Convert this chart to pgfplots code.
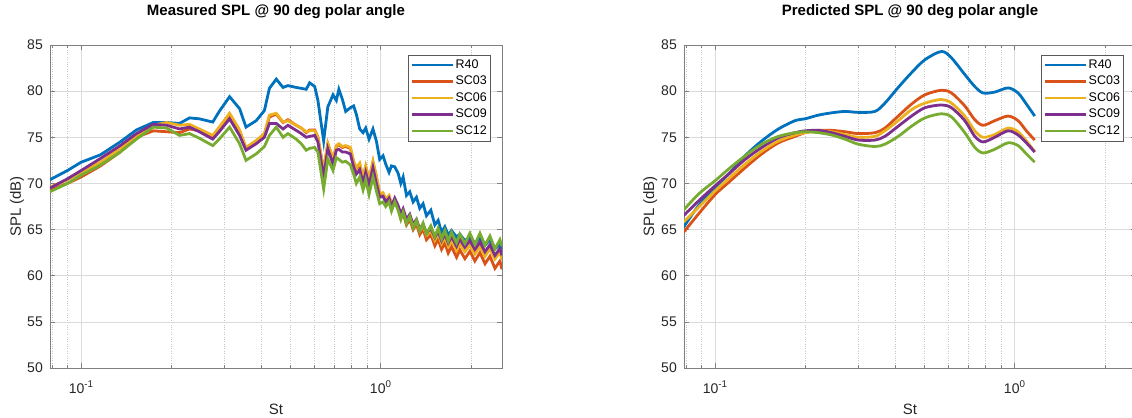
\documentclass[border=0pt]{standalone}
\usepackage{pgfplots}
\pgfplotsset{compat=1.18}
\usepackage{pgfplotstable}
\usepackage{fontspec}
\setmainfont{Liberation Sans}

\definecolor{cR}{RGB}{0,114,189}
\definecolor{cA}{RGB}{217,83,25}
\definecolor{cB}{RGB}{237,177,32}
\definecolor{cC}{RGB}{126,47,142}
\definecolor{cD}{RGB}{119,172,48}
\definecolor{axgray}{RGB}{128,128,128}
\definecolor{txt}{RGB}{38,38,38}

\pgfplotstableread{
St R40 SC03 SC06 SC09 SC12
0.0787 70.4 69.3 69.6 69.5 69.1
0.09 71.4 70.0 70.4 70.5 70.0
0.1 72.3 70.7 71.2 71.4 70.9
0.116 73.1 71.9 72.3 72.7 72.0
0.135 74.5 73.4 73.8 74.1 73.4
0.153 75.8 75.0 75.2 75.4 74.8
0.174 76.6 75.7 76.3 76.4 76.1
0.193 76.6 75.6 76.6 76.3 76.0
0.213 76.5 75.5 76.3 75.9 75.2
0.23 77.1 75.9 76.4 76.1 75.4
0.248 77.0 75.7 75.9 75.6 74.9
0.275 76.65 75.1 75.2 74.8 74.1
0.289 77.8 76.0 76.1 75.6 74.8
0.313 79.4 77.4 77.6 77.0 76.1
0.338 78.1 75.6 75.8 75.2 74.3
0.355 76.1 73.8 73.9 73.6 72.5
0.384 76.8 74.5 74.65 74.3 73.2
0.409 77.9 75.3 75.4 75.0 74.0
0.425 80.3 77.2 77.4 76.5 75.2
0.448 81.3 77.5 77.6 76.5 76.1
0.472 80.4 76.6 76.65 75.9 75.0
0.49 80.6 76.9 76.8 76.3 75.4
0.522 80.4 76.3 76.3 75.75 74.8
0.543 80.3 76.0 76.0 75.4 74.3
0.564 80.2 75.5 75.6 75.0 73.6
0.579 80.9 75.8 75.7 75.1 73.8
0.602 80.5 75.8 75.7 75.2 73.9
0.617 79.0 75.0 75.0 74.5 73.4
0.645 74.6 71.4 71.4 70.7 69.4
0.666 78.3 74.3 74.3 73.75 72.65
0.693 79.6 72.6 72.7 72.1 71.4
0.711 79.0 74.0 74.1 73.6 72.8
0.725 80.2 74.2 74.3 73.7 72.6
0.745 79.1 73.9 74.0 73.4 72.3
0.764 77.8 74.0 74.1 73.4 72.4
0.792 78.2 73.8 73.9 73.2 72.0
0.812 78.4 72.3 72.4 71.8 71.0
0.829 77.5 71.6 71.7 71.0 70.0
0.851 75.9 72.0 72.2 71.5 70.7
0.873 75.5 70.6 70.7 70.0 69.3
0.891 76.0 71.8 71.9 71.2 70.4
0.914 74.8 70.4 70.5 69.8 68.8
0.942 75.9 72.3 72.4 71.7 70.7
0.967 74.6 70.7 70.8 70.0 69.2
0.992 72.6 68.8 68.9 68.5 67.8
1.018 73.0 68.9 69.0 68.6 68.0
1.039 72.1 68.2 68.3 68.0 67.5
1.066 71.2 68.6 68.7 68.4 68.0
1.086 71.9 67.7 67.8 67.5 67.0
1.114 71.8 68.1 68.3 68.4 68.0
1.143 71.1 67.3 67.5 67.6 67.1
1.167 70.0 66.2 66.5 66.7 66.1
1.188 70.7 66.8 67.05 67.25 66.9
1.219 68.7 65.5 65.9 66.1 65.65
1.250 69.1 66.1 66.45 66.65 66.45
1.283 68.0 65.0 65.35 65.55 65.2
1.316 68.5 65.6 65.9 66.1 66.0
1.350 67.3 64.45 64.85 65.05 64.85
1.385 67.8 65.05 65.4 65.6 65.7
1.421 66.5 63.9 64.4 64.6 64.55
1.470 67.1 64.45 64.85 65.15 65.4
1.516 65.5 63.25 63.85 64.15 64.25
1.555 66.0 63.95 64.5 64.8 65.15
1.596 64.7 62.85 63.5 63.8 64.0
1.637 65.3 63.55 64.15 64.5 64.9
1.680 64.4 62.45 63.2 63.55 63.75
1.723 64.9 63.15 63.8 64.25 64.7
1.791 64.2 62.0 62.75 63.2 63.55
1.837 64.5 62.8 63.45 63.95 64.5
1.910 63.8 61.85 62.6 63.1 63.5
1.985 64.2 62.65 63.3 63.8 64.6
2.062 63.5 61.6 62.35 62.85 63.4
2.144 64.1 62.5 63.15 63.65 64.6
2.229 63.3 61.3 62.1 62.6 63.3
2.315 63.9 62.1 62.9 63.35 64.3
2.406 62.9 60.8 61.8 62.2 62.9
2.500 63.4 61.6 62.55 62.95 63.9
2.54 62.9 60.7 61.7 62.2 63.2
}\measured

\pgfplotstableread{
St R40 SC03 SC06 SC09 SC12
0.0784 65.25 64.7 65.8 66.5 67.1
0.0880 67.6 66.7 67.4 68.1 68.85
0.1 69.6 68.8 69.2 69.75 70.3
0.1108 71.0 70.1 70.5 71.0 71.55
0.1259 73.0 71.7 72.1 72.6 73.0
0.1430 74.6 73.2 73.5 73.9 74.25
0.1626 75.9 74.4 74.6 74.95 75.1
0.1848 76.8 75.1 75.25 75.5 75.5
0.1995 77.0 75.5 75.5 75.7 75.6
0.2210 77.4 75.75 75.7 75.75 75.5
0.2448 77.65 75.75 75.6 75.5 75.25
0.2712 77.8 75.6 75.3 75.1 74.8
0.3004 77.7 75.4 75.0 74.7 74.25
0.3415 77.8 75.5 75.1 74.7 74.0
0.3686 78.7 76.0 75.7 75.1 74.25
0.4084 80.4 77.3 76.8 76.2 75.1
0.4524 82.0 78.6 78.0 77.3 76.2
0.5012 83.4 79.6 78.7 78.2 77.1
0.5695 84.3 80.1 79.1 78.5 77.55
0.6150 83.6 79.8 78.7 78.2 77.2
0.6813 81.8 78.4 77.3 76.8 75.5
0.7356 80.5 76.9 75.7 75.1 73.9
0.7843 79.8 76.3 75.0 74.5 73.3
0.8577 79.9 76.8 75.3 75.0 73.7
0.9501 80.35 77.3 76.0 75.7 74.4
1.0259 79.8 76.8 75.6 75.25 74.1
1.0936 78.6 75.7 74.6 74.4 73.2
1.1659 77.3 74.7 73.45 73.4 72.3
}\predicted

\begin{document}
\begin{tikzpicture}
\path[use as bounding box] (0,0) rectangle (1132bp,418bp);
\begin{axis}[
    at={(50bp,50bp)}, anchor=south west,
    scale only axis, width=452bp, height=323bp,
    xmode=log, xmin=0.0787, xmax=2.54, ymin=50, ymax=85,
    ytick={50,55,60,65,70,75,80,85},
    xtick={0.1,1},
    xticklabels={10\textsuperscript{-1},10\textsuperscript{0}},
    minor xtick={0.08,0.09,0.2,0.3,0.4,0.5,0.6,0.7,0.8,0.9,2},
    xmajorgrids, ymajorgrids, xminorgrids,
    major grid style={draw=black!14, line width=0.5bp},
    minor grid style={draw=black!22, dotted, line width=0.5bp},
    axis line style={draw=axgray, line width=0.8bp},
    tick style={draw=axgray, line width=0.6bp},
    tick align=inside,
    major tick length=5bp, minor tick length=3bp,
    /pgf/number format/assume math mode=true,
    ticklabel style={font=\fontsize{14bp}{16bp}\selectfont, text=txt},
    xticklabel style={anchor=base, yshift=-25bp, inner sep=0pt},
    yticklabel style={anchor=east, inner sep=0pt, xshift=-7bp},
    xlabel={St}, ylabel={SPL (dB)},
    label style={font=\fontsize{15bp}{17bp}\selectfont, text=txt},
    xlabel style={at={(axis description cs:0.5,0)}, anchor=base, yshift=-46bp, inner sep=0pt},
    ylabel style={at={(axis description cs:0,0.5)}, anchor=base, yshift=29bp, inner sep=0pt},
    title style={font=\fontsize{15bp}{17bp}\selectfont\bfseries, at={(axis description cs:0.5,1)}, anchor=base, yshift=24bp, inner sep=0pt},
    title={Measured SPL @ 90 deg polar angle},
    legend cell align=left,
    legend style={at={(0.975,0.969)}, anchor=north east,
      draw=black!65, line width=0.6bp, fill=white,
      font=\fontsize{12.5bp}{14bp}\selectfont,
      inner xsep=2bp, inner ysep=1.5bp, row sep=0bp,
      nodes={inner sep=1.5bp, text height=10bp, text depth=3.5bp}},
    every axis plot post/.append style={line width=2.8bp,
      legend image code/.code={\draw[##1] (0bp,0bp) -- (41bp,0bp);}},
  ]
\addplot[cR] table[x=St, y=R40] {\measured};
\addplot[cA] table[x=St, y=SC03] {\measured};
\addplot[cB] table[x=St, y=SC06] {\measured};
\addplot[cC] table[x=St, y=SC09] {\measured};
\addplot[cD] table[x=St, y=SC12] {\measured};
\legend{R40,SC03,SC06,SC09,SC12}
\end{axis}
\begin{axis}[
    at={(684bp,50bp)}, anchor=south west,
    scale only axis, width=452bp, height=323bp,
    xmode=log, xmin=0.0787, xmax=2.54, ymin=50, ymax=85,
    ytick={50,55,60,65,70,75,80,85},
    xtick={0.1,1},
    xticklabels={10\textsuperscript{-1},10\textsuperscript{0}},
    minor xtick={0.08,0.09,0.2,0.3,0.4,0.5,0.6,0.7,0.8,0.9,2},
    xmajorgrids, ymajorgrids, xminorgrids,
    major grid style={draw=black!14, line width=0.5bp},
    minor grid style={draw=black!22, dotted, line width=0.5bp},
    axis line style={draw=axgray, line width=0.8bp},
    tick style={draw=axgray, line width=0.6bp},
    tick align=inside,
    major tick length=5bp, minor tick length=3bp,
    /pgf/number format/assume math mode=true,
    ticklabel style={font=\fontsize{14bp}{16bp}\selectfont, text=txt},
    xticklabel style={anchor=base, yshift=-25bp, inner sep=0pt},
    yticklabel style={anchor=east, inner sep=0pt, xshift=-7bp},
    xlabel={St}, ylabel={SPL (dB)},
    label style={font=\fontsize{15bp}{17bp}\selectfont, text=txt},
    xlabel style={at={(axis description cs:0.5,0)}, anchor=base, yshift=-46bp, inner sep=0pt},
    ylabel style={at={(axis description cs:0,0.5)}, anchor=base, yshift=30bp, inner sep=0pt},
    title style={font=\fontsize{15bp}{17bp}\selectfont\bfseries, at={(axis description cs:0.5,1)}, anchor=base, yshift=24bp, inner sep=0pt},
    title={Predicted SPL @ 90 deg polar angle},
    legend cell align=left,
    legend style={at={(0.973,0.969)}, anchor=north east,
      draw=black!65, line width=0.6bp, fill=white,
      font=\fontsize{12.5bp}{14bp}\selectfont,
      inner xsep=2bp, inner ysep=1.5bp, row sep=0bp,
      nodes={inner sep=1.5bp, text height=10bp, text depth=3.5bp}},
    every axis plot post/.append style={line width=2.8bp,
      legend image code/.code={\draw[##1] (0bp,0bp) -- (41bp,0bp);}},
  ]
\addplot[cR, smooth, tension=0.5] table[x=St, y=R40] {\predicted};
\addplot[cA, smooth, tension=0.5] table[x=St, y=SC03] {\predicted};
\addplot[cB, smooth, tension=0.5] table[x=St, y=SC06] {\predicted};
\addplot[cC, smooth, tension=0.5] table[x=St, y=SC09] {\predicted};
\addplot[cD, smooth, tension=0.5] table[x=St, y=SC12] {\predicted};
\legend{R40,SC03,SC06,SC09,SC12}
\end{axis}
\end{tikzpicture}
\end{document}
